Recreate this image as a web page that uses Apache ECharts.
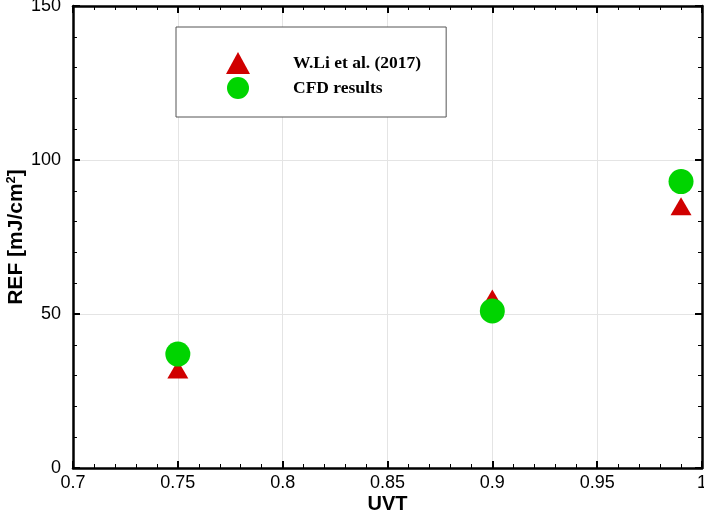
<!DOCTYPE html>
<html>
<head>
<meta charset="utf-8">
<script src="https://cdn.jsdelivr.net/npm/echarts@6/dist/echarts.min.js"></script>
<style>
html,body{margin:0;padding:0;background:#fff;}
#chart{width:704px;height:512px;}
</style>
</head>
<body>
<div id="chart"></div>
<script>
var uvt = [0.75, 0.9, 0.99];
var liRef = [32, 55, 85];
var cfdRef = [37, 51, 93];
var seriesNames = ['W.Li et al. (2017)', 'CFD results'];
var xName = 'UVT';
var yName = 'REF [mJ/cm{sup|2}]';

function pairs(xs, ys) { return xs.map(function (x, i) { return [x, ys[i]]; }); }

var chart = echarts.init(document.getElementById('chart'));
var tickFont = { fontFamily: 'Liberation Sans, Arial, sans-serif', fontSize: 18, color: '#000' };
function frameAxis(extra) {
  return Object.assign({
    axisLine: { show: true, onZero: false, lineStyle: { color: '#000', width: 2.5 } },
    axisTick: { show: true, inside: true, length: 7, lineStyle: { color: '#000', width: 2 } },
    minorTick: { show: true, splitNumber: 5, length: 4, lineStyle: { color: '#000', width: 1 } },
    axisLabel: { show: false },
    splitLine: { show: false }
  }, extra);
}
chart.setOption({
  animation: false,
  backgroundColor: '#fff',
  grid: { left: 73, right: 2, top: 6, bottom: 44, containLabel: false, outerBoundsMode: 'none' },
  legend: {
    orient: 'vertical',
    left: 176, top: 27,
    padding: [25, 25, 18, 50],
    itemWidth: 24, itemHeight: 22, itemGap: 3,
    borderColor: '#555', borderWidth: 1, backgroundColor: '#fff',
    textStyle: { fontFamily: 'Liberation Serif, Times New Roman, serif', fontWeight: 'bold', fontSize: 17.5, color: '#000', padding: [0, 0, 0, 38], lineHeight: 22 },
    data: [{ name: seriesNames[0], icon: 'triangle' }, { name: seriesNames[1], icon: 'circle' }]
  },
  xAxis: [
    frameAxis({
      type: 'value', position: 'bottom', min: 0.7, max: 1, interval: 0.05,
      axisLabel: Object.assign({ show: true, margin: 6 }, tickFont),
      splitLine: { show: true, lineStyle: { color: '#e4e4e4', width: 1 } },
      name: xName, nameLocation: 'middle', nameGap: 26, nameMoveOverlap: false,
      nameTextStyle: { fontFamily: 'Liberation Sans, Arial, sans-serif', fontWeight: 'bold', fontSize: 20, color: '#000' }
    }),
    frameAxis({ type: 'value', position: 'top', min: 0.7, max: 1, interval: 0.05 })
  ],
  yAxis: [
    frameAxis({
      type: 'value', position: 'left', min: 0, max: 150, interval: 50,
      axisLabel: Object.assign({ show: true, margin: 12 }, tickFont),
      splitLine: { show: true, lineStyle: { color: '#e4e4e4', width: 1 } },
      name: yName, nameLocation: 'middle', nameGap: 46, nameRotate: 90, nameMoveOverlap: false,
      nameTextStyle: {
        fontFamily: 'Liberation Sans, Arial, sans-serif', fontWeight: 'bold', fontSize: 21, color: '#000',
        rich: { sup: { fontFamily: 'Liberation Sans, Arial, sans-serif', fontWeight: 'bold', fontSize: 13, color: '#000', padding: [0, 0, 9, 0] } }
      }
    }),
    frameAxis({ type: 'value', position: 'right', min: 0, max: 150, interval: 50 })
  ],
  series: [
    {
      name: seriesNames[0], type: 'scatter', symbol: 'triangle', symbolSize: [21, 18],
      itemStyle: { color: '#d00000', opacity: 1 },
      data: pairs(uvt, liRef), z: 2
    },
    {
      name: seriesNames[1], type: 'scatter', symbol: 'circle', symbolSize: 25,
      itemStyle: { color: '#00d400', opacity: 1 },
      data: pairs(uvt, cfdRef), z: 3
    }
  ]
});
</script>
</body>
</html>
